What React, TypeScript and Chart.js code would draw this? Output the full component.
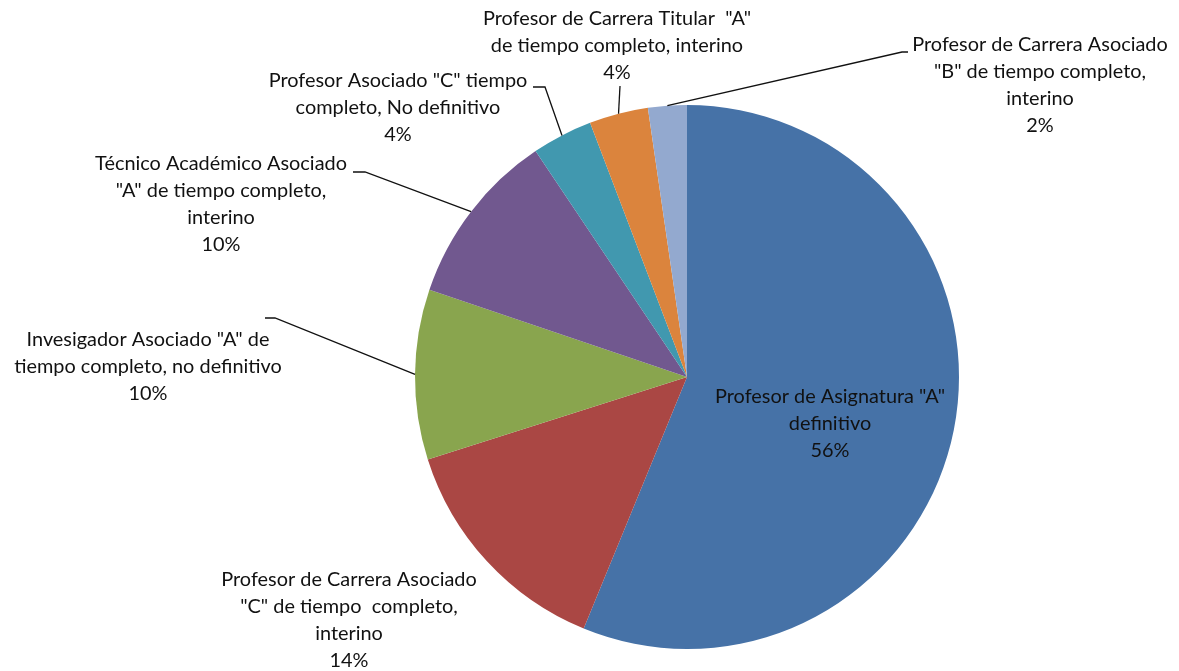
import React, { useEffect, useRef } from 'react';
import { Chart, registerables } from 'chart.js';

Chart.register(...registerables);

// ---- Data ----
const categories: string[][] = [
  ['Profesor de Asignatura "A"', 'definitivo'],
  ['Profesor de Carrera Asociado', '"C" de tiempo  completo,', 'interino'],
  ['Invesigador Asociado "A" de', 'tiempo completo, no definitivo'],
  ['Técnico Académico Asociado', '"A" de tiempo completo,', 'interino'],
  ['Profesor Asociado "C" tiempo', 'completo, No definitivo'],
  ['Profesor de Carrera Titular  "A"', 'de tiempo completo, interino'],
  ['Profesor de Carrera Asociado', '"B" de tiempo completo,', 'interino'],
];
const values: number[] = [56.2, 13.9, 10.1, 10.4, 3.6, 3.5, 2.3];

// ---- Styles / layout ----
const colors: string[] = ['#4672A7', '#AA4744', '#89A54E', '#71588F', '#4198AF', '#DB843D', '#93A9CF'];

type LabelLayout = { cx: number; cy: number; line?: number[][] };
const labelLayout: LabelLayout[] = [
  { cx: 830, cy: 397 },
  { cx: 349, cy: 580 },
  { cx: 148, cy: 340, line: [[265, 318], [275, 318]] },
  { cx: 221, cy: 164, line: [[353, 172], [365, 172]] },
  { cx: 398, cy: 81, line: [[533, 87], [545, 87]] },
  { cx: 617, cy: 19, line: [[620, 86]] },
  { cx: 1040, cy: 45, line: [[908, 52], [902, 52]] },
];
const LINE_HEIGHT = 26.8;
const FONT = '19.9px Lato';

const labelPlugin = {
  id: 'pieLabels',
  afterDatasetsDraw(chart: any) {
    const ctx = chart.ctx as CanvasRenderingContext2D;
    const meta = chart.getDatasetMeta(0);
    const data = chart.data.datasets[0].data as number[];
    const total = data.reduce((a, b) => a + b, 0);
    ctx.save();
    meta.data.forEach((arc: any, i: number) => {
      const lay = labelLayout[i];
      if (!lay) return;
      const { x, y, startAngle, endAngle, outerRadius } = arc.getProps(
        ['x', 'y', 'startAngle', 'endAngle', 'outerRadius'],
        true
      );
      if (lay.line) {
        const mid = (startAngle + endAngle) / 2;
        const px = x + Math.cos(mid) * outerRadius;
        const py = y + Math.sin(mid) * outerRadius;
        ctx.beginPath();
        ctx.strokeStyle = '#111';
        ctx.lineWidth = 1.3;
        ctx.moveTo(lay.line[0][0], lay.line[0][1]);
        for (let k = 1; k < lay.line.length; k++) ctx.lineTo(lay.line[k][0], lay.line[k][1]);
        ctx.lineTo(px, py);
        ctx.stroke();
      }
      const lines = [...categories[i], Math.round((data[i] / total) * 100) + '%'];
      ctx.font = FONT;
      ctx.fillStyle = '#111';
      ctx.textAlign = 'center';
      ctx.textBaseline = 'middle';
      lines.forEach((t, k) => ctx.fillText(t, lay.cx, lay.cy + k * LINE_HEIGHT));
    });
    ctx.restore();
  },
};

export default function App() {
  const ref = useRef<HTMLCanvasElement | null>(null);
  useEffect(() => {
    document.body.style.margin = '0';
    if (!ref.current) return;
    const chart = new Chart(ref.current, {
      type: 'pie',
      data: {
        labels: categories,
        datasets: [
          {
            data: values,
            backgroundColor: colors,
            borderWidth: 0,
          },
        ],
      },
      options: {
        responsive: false,
        animation: false,
        layout: { padding: { left: 415, right: 220, top: 105, bottom: 22 } },
        plugins: {
          legend: { display: false },
          tooltip: { enabled: false },
        },
      },
      plugins: [labelPlugin],
    });
    return () => chart.destroy();
  }, []);
  return (
    <div style={{ width: 1179, height: 671, background: '#fff' }}>
      <canvas ref={ref} width={1179} height={671} />
    </div>
  );
}
